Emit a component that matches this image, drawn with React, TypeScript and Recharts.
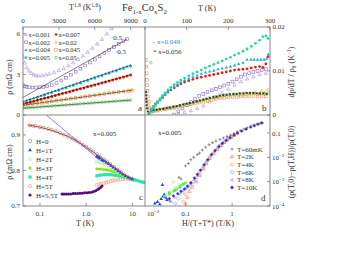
import React from "react"
import { ScatterChart, Scatter, XAxis, YAxis } from "recharts"

const W = 349
const H = 274
const FONT = "Liberation Serif, DejaVu Serif, serif"
const INK = "#333"

// ---- panel a : rho vs T^1.6 ----
const aXTicks = [0, 3000, 6000, 9000]
const aYTicks = [0, 3, 6]
const a001 = [[0,4.3],[150,3.85],[300,3.5],[500,3.25],[700,3.08],[900,2.98],[1100,2.92],[1300,2.9],[1600,2.92],[1900,2.97],[2200,3.04],[2600,3.15],[3000,3.3],[3400,3.45],[3800,3.65],[4200,3.87],[4600,4.1],[5000,4.38],[5400,4.65],[5800,4.95],[6200,5.25],[6600,5.6],[7000,6.0],[7400,6.4],[7650,6.6]]
const a002 = [[0,2.2],[150,2.12],[300,2.08],[500,2.05],[800,2.03],[1100,2.03],[1400,2.05],[1700,2.08],[2000,2.12],[2400,2.2],[2800,2.35],[3200,2.55],[3600,2.75],[4000,2.98],[4400,3.2],[4800,3.42],[5200,3.65],[5600,3.88],[6000,4.1],[6400,4.33],[6800,4.56],[7200,4.8],[7600,5.03],[8000,5.25],[8400,5.45],[8700,5.6]]
const a004 = [[0,1.0],[300,1.07],[600,1.15],[900,1.24],[1200,1.33],[1500,1.42],[1800,1.51],[2100,1.6],[2400,1.69],[2700,1.78],[3000,1.87],[3300,1.96],[3600,2.05],[3900,2.14],[4200,2.23],[4500,2.32],[4800,2.41],[5100,2.5],[5400,2.59],[5700,2.68],[6000,2.77],[6300,2.86],[6600,2.95],[6900,3.04],[7200,3.13],[7500,3.22],[7800,3.31],[8100,3.4],[8400,3.49],[8700,3.58],[9000,3.66]]
const a005 = [[0,0.95],[600,1.1],[1200,1.27],[1800,1.45],[2400,1.63],[3000,1.8],[3600,1.98],[4200,2.16],[4800,2.34],[5400,2.52],[6000,2.7],[6600,2.88],[7200,3.06],[7800,3.24],[8400,3.42],[9000,3.58]]
const a007 = [[0,0.82],[300,0.88],[600,0.95],[900,1.02],[1200,1.09],[1500,1.16],[1800,1.23],[2100,1.3],[2400,1.37],[2700,1.44],[3000,1.51],[3300,1.58],[3600,1.65],[3900,1.72],[4200,1.79],[4500,1.86],[4800,1.93],[5100,2.0],[5400,2.08],[5700,2.15],[6000,2.22],[6300,2.29],[6600,2.36],[6900,2.44],[7200,2.51],[7500,2.58],[7800,2.65],[8100,2.73],[8400,2.8],[8700,2.88],[9000,2.96]]
const a02 = [[0,0.75],[400,0.8],[800,0.85],[1200,0.9],[1600,0.95],[2000,1.0],[2400,1.05],[2800,1.1],[3200,1.15],[3600,1.2],[4000,1.25],[4400,1.3],[4800,1.35],[5200,1.4],[5600,1.45],[6000,1.5],[6400,1.55],[6800,1.6],[7200,1.65],[7600,1.7],[8000,1.74],[8400,1.78],[8800,1.83],[9100,1.86]]
const a045 = [[0,0.7],[400,0.75],[800,0.8],[1200,0.85],[1600,0.9],[2000,0.95],[2400,1.0],[2800,1.05],[3200,1.1],[3600,1.15],[4000,1.2],[4400,1.25],[4800,1.3],[5200,1.35],[5600,1.4],[6000,1.45],[6400,1.5],[6800,1.55],[7200,1.6],[7600,1.65],[8000,1.69],[8400,1.73],[8800,1.77],[9100,1.8]]
const a05 = [[0,0.5],[300,0.52],[600,0.54],[900,0.56],[1200,0.58],[1500,0.6],[1800,0.62],[2100,0.64],[2400,0.66],[2700,0.68],[3000,0.7],[3300,0.72],[3600,0.74],[3900,0.76],[4200,0.78],[4500,0.8],[4800,0.82],[5100,0.84],[5400,0.86],[5700,0.88],[6000,0.9],[6300,0.92],[6600,0.94],[6900,0.96],[7200,0.98],[7500,1.0],[7800,1.02],[8100,1.04],[8400,1.06],[8700,1.08],[9000,1.1]]
const aFit002 = [[0,1.3],[8700,5.6]]
const aFit004 = [[0,0.98],[9000,3.68]]
const aFit007 = [[0,0.82],[9000,2.97]]
const aFit02 = [[0,0.72],[9100,1.83]]
const aFit05 = [[0,0.5],[9000,1.1]]

// ---- panel b : (drho/dT)/rho0 vs T ----
const bXTicks = [0, 100, 200, 300]
const bYTicks = [0, 0.01, 0.02]
const b005 = [[8,0.0],[12,0.0005],[16,0.0012],[20,0.0018],[25,0.0024],[30,0.003],[36,0.0037],[42,0.0044],[48,0.005],[55,0.0057],[62,0.0063],[70,0.0069],[78,0.0074],[86,0.0079],[95,0.0084],[105,0.0089],[115,0.0094],[125,0.0098],[135,0.0102],[145,0.0107],[155,0.0111],[165,0.0115],[175,0.0119],[185,0.0123],[195,0.0127],[205,0.0131],[215,0.0136],[225,0.014],[235,0.0145],[245,0.015],[255,0.0156],[265,0.0163],[275,0.017],[283,0.0178],[290,0.018],[295,0.0174]]
const b004 = [[10,0.0002],[15,0.001],[20,0.0016],[25,0.0022],[30,0.0028],[36,0.0034],[42,0.004],[48,0.0046],[55,0.0052],[62,0.0058],[70,0.0064],[78,0.0069],[86,0.0074],[95,0.0079],[105,0.0083],[115,0.0087],[125,0.009],[135,0.0094],[145,0.0097],[155,0.0099],[165,0.0101],[175,0.0104],[185,0.0106],[195,0.0108],[205,0.011],[215,0.0113],[225,0.0116],[235,0.0119],[245,0.0126],[254,0.0126],[262,0.0126],[270,0.0126],[278,0.0126],[286,0.0126],[292,0.0128],[296,0.0138]]
const b007 = [[10,0.0004],[15,0.0012],[20,0.0019],[25,0.0025],[30,0.003],[36,0.0035],[42,0.004],[48,0.0046],[55,0.0052],[62,0.0057],[70,0.0062],[78,0.0067],[86,0.0071],[95,0.0075],[105,0.0078],[115,0.0081],[125,0.0084],[135,0.0086],[145,0.0088],[155,0.009],[165,0.0092],[175,0.0094],[185,0.0096],[195,0.0098],[205,0.01],[215,0.0102],[225,0.0103],[235,0.0104],[245,0.0105],[255,0.0107],[265,0.0109],[275,0.011],[283,0.0108],[290,0.0116],[295,0.0132]]
const b002 = [[70,0.0001],[80,0.0008],[90,0.0015],[100,0.0022],[110,0.0029],[120,0.0036],[130,0.0043],[140,0.0048],[150,0.0052],[160,0.0056],[170,0.0059],[180,0.0063],[190,0.0067],[200,0.0071],[210,0.0076],[220,0.0081],[230,0.0087],[240,0.0092],[250,0.0095],[260,0.0098],[270,0.01],[280,0.0102],[290,0.0104]]
const b001 = [[80,0.0002],[95,0.0006],[110,0.001],[125,0.0015],[140,0.0021],[155,0.003],[170,0.004],[185,0.005],[200,0.0059],[215,0.0068],[230,0.0076],[245,0.0082],[260,0.0087],[275,0.0092],[290,0.0095]]
const b056 = [[2,0.0052],[2.5,0.0045],[3,0.0037],[3.5,0.003],[4,0.0022],[5,0.0015],[7,0.0008],[10,0.0005],[15,0.0009],[20,0.0011],[28,0.0012],[36,0.0013],[44,0.0014],[52,0.0016],[60,0.0017],[68,0.0019],[76,0.002],[84,0.0022],[92,0.0024],[100,0.0026],[108,0.0027],[116,0.0029],[124,0.0031],[132,0.0033],[140,0.0035],[148,0.0037],[156,0.0039],[164,0.0041],[172,0.0042],[180,0.0044],[188,0.0045],[196,0.0046],[204,0.0047],[212,0.0048],[220,0.0048],[228,0.0049],[236,0.0049],[244,0.005],[252,0.005],[260,0.005],[268,0.0049],[276,0.0049],[284,0.0049],[292,0.0048]]
const b05 = [[14,0.0119],[18,0.0008],[26,0.001],[34,0.0012],[46,0.0014],[58,0.0016],[70,0.0018],[82,0.0021],[94,0.0024],[106,0.0026],[118,0.0029],[130,0.0032],[142,0.0035],[154,0.0038],[166,0.004],[178,0.0043],[190,0.0045],[202,0.0046],[214,0.0047],[226,0.0048],[238,0.0049],[250,0.0049],[262,0.0049],[274,0.0048],[286,0.0048],[296,0.005]]
const b02 = [[5,0.0035],[8,0.0025],[12,0.0018],[18,0.0014],[25,0.0013],[35,0.0014],[45,0.0015],[55,0.0016],[65,0.0017],[75,0.0019],[85,0.0021],[95,0.0023],[105,0.0025],[115,0.0027],[125,0.003],[135,0.0032],[145,0.0034],[155,0.0036],[165,0.0038],[175,0.004],[185,0.0041],[195,0.0042],[205,0.0043],[215,0.0044],[225,0.0044],[235,0.0045],[245,0.0046],[255,0.0048],[265,0.0052],[275,0.0049],[280,0.0055],[288,0.0051],[295,0.0058]]
const b045 = [[3,0.0125],[3.5,0.011],[4,0.0095],[4.5,0.008],[5,0.0068],[6,0.0055],[7,0.0042],[9,0.003],[12,0.0015],[20,0.0008],[30,0.001],[40,0.0012],[50,0.0013],[60,0.0015],[70,0.0016],[80,0.0018],[90,0.002],[100,0.0022],[110,0.0024],[120,0.0026],[130,0.0028],[140,0.003],[150,0.0032],[160,0.0034],[170,0.0036],[180,0.0038],[190,0.0039],[200,0.004],[210,0.0041],[220,0.0041],[230,0.0042],[240,0.0042],[250,0.0043],[260,0.0043],[270,0.0042],[280,0.0043],[290,0.0042]]

// ---- panel c : rho vs T, x=0.005, several fields ----
const cXTicks = [0.1, 1, 10]
const cYTicks = [0.7, 0.8, 0.9]
const cH0 = [[0.06,0.927],[0.07,0.926],[0.08,0.925],[0.1,0.922],[0.12,0.92],[0.15,0.917],[0.18,0.914],[0.22,0.91],[0.27,0.906],[0.33,0.901],[0.4,0.896],[0.5,0.89],[0.6,0.884],[0.7,0.879],[0.85,0.872],[1.0,0.866],[1.2,0.859],[1.4,0.853],[1.7,0.846],[2.0,0.838],[2.4,0.831],[2.8,0.825],[3.3,0.818],[4.0,0.81],[4.8,0.802],[5.7,0.795],[6.7,0.788],[8.0,0.781],[9.5,0.776],[11,0.773]]
const cFit0 = [[0.055,0.928],[0.1,0.922],[0.2,0.911],[0.4,0.896],[0.7,0.879],[1,0.866],[2,0.838],[4,0.81],[7,0.787],[10,0.776]]
const cLog = [[0.14,0.955],[2.5,0.818]]
const cH1 = [[1.7,0.84],[1.8,0.838],[1.9,0.836],[2.0,0.834],[2.2,0.83],[2.4,0.827],[2.7,0.823],[3.0,0.819],[3.4,0.814],[3.8,0.809],[4.3,0.804],[4.9,0.799],[5.5,0.794],[6.2,0.789],[7,0.785],[8,0.781],[9,0.778],[10,0.776]]
const cH2 = [[1.7,0.826],[1.8,0.825],[2.0,0.823],[2.2,0.821],[2.5,0.818],[2.8,0.815],[3.2,0.811],[3.6,0.807],[4.0,0.803],[4.6,0.799],[5.2,0.795],[6,0.79],[7,0.785],[8,0.781],[9,0.778],[10,0.776]]
const cH3 = [[1.7,0.804],[1.9,0.804],[2.1,0.804],[2.4,0.803],[2.7,0.802],[3,0.801],[3.4,0.799],[3.8,0.797],[4.3,0.795],[4.9,0.792],[5.5,0.789],[6.2,0.786],[7,0.783],[8,0.78],[9,0.778],[10,0.776]]
const cH4 = [[1.7,0.785],[1.9,0.786],[2.1,0.787],[2.4,0.788],[2.7,0.788],[3,0.788],[3.4,0.788],[3.8,0.787],[4.3,0.786],[4.9,0.785],[5.5,0.784],[6.2,0.782],[7,0.78],[8,0.779],[9,0.777],[10,0.776],[11,0.774],[12.5,0.772],[14,0.77],[15.5,0.768],[17,0.767],[18.5,0.766]]
const cH5 = [[1.7,0.759],[1.9,0.761],[2.1,0.762],[2.4,0.764],[2.7,0.766],[3,0.768],[3.4,0.77],[3.8,0.772],[4.3,0.773],[4.9,0.774],[5.5,0.775],[6.2,0.776],[7,0.776],[8,0.776],[9,0.776],[10,0.775]]
const cH55 = [[0.3,0.734],[0.33,0.734],[0.37,0.734],[0.41,0.734],[0.46,0.734],[0.52,0.735],[0.58,0.735],[0.65,0.735],[0.73,0.736],[0.82,0.736],[0.92,0.737],[1.03,0.737],[1.15,0.738],[1.3,0.739],[1.45,0.741],[1.6,0.743],[1.75,0.746],[1.9,0.749],[2.05,0.752],[2.2,0.756]]

// ---- panel d : magnetoresistance scaling ----
const dXTicks = [0.1, 1]
const dYTicks = [0.0001, 0.001, 0.01, 0.1]
const d60mK = [[0.046,0.00016],[0.072,0.0015],[0.08,0.0013],[0.1,0.0045],[0.115,0.0056],[0.13,0.008],[0.15,0.01],[0.18,0.013],[0.2,0.015],[0.23,0.02],[0.27,0.026],[0.32,0.033],[0.38,0.04],[0.45,0.047],[0.55,0.055],[0.65,0.063],[0.78,0.072],[0.92,0.082],[1.1,0.095],[1.3,0.11],[1.5,0.125],[1.8,0.145],[2.1,0.165],[2.5,0.19],[2.9,0.21],[3.4,0.23],[4.0,0.25],[4.5,0.26]]
const d2K = [[0.1,0.00013],[0.11,0.00022],[0.12,0.0004],[0.14,0.0006],[0.17,0.001],[0.2,0.0018],[0.24,0.0033],[0.28,0.0055],[0.33,0.009],[0.4,0.014],[0.48,0.021],[0.57,0.03],[0.68,0.041],[0.8,0.054],[0.95,0.067],[1.1,0.082],[1.3,0.098]]
const d4K = [[0.09,0.00015],[0.1,0.0003],[0.12,0.00055],[0.14,0.0008],[0.17,0.0012],[0.2,0.002],[0.24,0.0036],[0.28,0.006],[0.33,0.0095],[0.4,0.015],[0.48,0.022],[0.57,0.031],[0.68,0.042],[0.8,0.055],[0.95,0.068],[1.1,0.083]]
const d6K = [[0.06,0.00013],[0.07,0.0002],[0.085,0.00035],[0.1,0.0005],[0.12,0.0007],[0.145,0.001],[0.17,0.0015],[0.2,0.0025],[0.24,0.0042],[0.28,0.0068],[0.33,0.0105],[0.4,0.016],[0.48,0.024],[0.57,0.033],[0.68,0.044],[0.8,0.057],[0.95,0.07]]
const d8K = [[0.05,0.00015],[0.06,0.00022],[0.075,0.0003],[0.09,0.00042],[0.11,0.0006],[0.13,0.0008],[0.155,0.0012],[0.18,0.0018],[0.21,0.0028],[0.25,0.0045],[0.3,0.0075],[0.36,0.012],[0.43,0.018],[0.52,0.026],[0.62,0.036],[0.74,0.048]]
const d10K = [[0.045,0.0002],[0.055,0.00026],[0.068,0.00032],[0.08,0.0004],[0.095,0.0005],[0.11,0.00065],[0.13,0.0009],[0.155,0.0014],[0.18,0.002],[0.21,0.003],[0.25,0.005],[0.3,0.008],[0.36,0.013],[0.43,0.019],[0.52,0.028],[0.62,0.038],[0.75,0.05],[0.9,0.064],[1.1,0.082],[1.3,0.1],[1.6,0.12],[2.0,0.145],[2.5,0.175],[3.0,0.2],[3.6,0.23],[4.3,0.26]]
const dBlue = [[0.022,0.00013],[0.025,0.00015],[0.028,0.00012],[0.03,0.0002],[0.032,0.00075],[0.033,0.00025],[0.035,0.0003],[0.038,0.00022],[0.04,0.00018]]
const dLgreen = [[0.04,0.0003],[0.05,0.0004],[0.055,0.001],[0.06,0.00056],[0.07,0.0007]]
const dYgreen = [[0.045,0.0003],[0.055,0.0004],[0.065,0.0005],[0.08,0.0007],[0.1,0.0009]]
const dTeal = [[0.035,0.00025],[0.045,0.00035],[0.06,0.00045],[0.075,0.0006],[0.09,0.0008]]

const pts = (arr: number[][]) => arr.map(([x, y]) => ({ x, y }))

function Mark({ k, c, x, y, r = 1.4 }: { k: string; c: string; x: number; y: number; r?: number }) {
  const sw = 0.6
  if (x == null || y == null) return <g />
  switch (k) {
    case "circle":
      return <circle cx={x} cy={y} r={r} fill={c} />
    case "ocircle":
      return <circle cx={x} cy={y} r={r} fill="none" stroke={c} strokeWidth={sw} />
    case "tri":
    case "otri": {
      const d = `M${x},${y - r * 1.25}L${x + r * 1.15},${y + r * 0.8}L${x - r * 1.15},${y + r * 0.8}Z`
      return k === "tri" ? <path d={d} fill={c} /> : <path d={d} fill="none" stroke={c} strokeWidth={sw} />
    }
    case "sq":
      return <rect x={x - r} y={y - r} width={2 * r} height={2 * r} fill={c} />
    case "osq":
      return <rect x={x - r} y={y - r} width={2 * r} height={2 * r} fill="none" stroke={c} strokeWidth={sw} />
    case "odia":
      return <path d={`M${x},${y - r * 1.3}L${x + r * 1.3},${y}L${x},${y + r * 1.3}L${x - r * 1.3},${y}Z`} fill="none" stroke={c} strokeWidth={sw} />
    case "plus":
      return <path d={`M${x - r},${y}H${x + r}M${x},${y - r}V${y + r}`} stroke={c} strokeWidth={sw} />
    case "cross":
      return <path d={`M${x - r},${y - r}L${x + r},${y + r}M${x - r},${y + r}L${x + r},${y - r}`} stroke={c} strokeWidth={sw} />
    case "ast":
      return <path d={`M${x - r},${y}H${x + r}M${x},${y - r}V${y + r}M${x - r * 0.8},${y - r * 0.8}L${x + r * 0.8},${y + r * 0.8}M${x - r * 0.8},${y + r * 0.8}L${x + r * 0.8},${y - r * 0.8}`} stroke={c} strokeWidth={sw} />
    case "star":
      return (
        <g>
          <rect x={x - r * 0.8} y={y - r * 0.8} width={r * 1.6} height={r * 1.6} fill={c} />
          <path d={`M${x - r * 1.3},${y}H${x + r * 1.3}M${x},${y - r * 1.3}V${y + r * 1.3}`} stroke={c} strokeWidth={sw} />
        </g>
      )
    default:
      return <g />
  }
}

const shape = (k: string, c: string, r?: number) => (p: any) => <Mark k={k} c={c} x={p.cx} y={p.cy} r={r} />

type Series = { data: number[][]; k?: string; c: string; r?: number; line?: boolean; w?: number }

const tickStyle = { fontSize: 7, fill: INK, fontFamily: FONT }
const axisBase: any = {
  type: "number",
  allowDataOverflow: true,
  axisLine: false,
  tickLine: { stroke: "#555", strokeWidth: 0.6 },
  tickSize: -3,
  interval: 0,
  tick: tickStyle,
}

function PowTick(p: any) {
  const v = p.payload.value
  if (v >= 0.1) {
    return (
      <text x={p.x} y={p.y + 2.5} fontSize={7} fill={INK} fontFamily={FONT} textAnchor="start">
        0.1
      </text>
    )
  }
  const e = Math.round(-Math.log10(v))
  return (
    <text x={p.x} y={p.y + 2.5} fontSize={7} fill={INK} fontFamily={FONT} textAnchor="start">
      10<tspan dy={-3} fontSize={5}>{"−" + e}</tspan>
    </text>
  )
}

function Panel({ margin, x, y, series }: { margin: any; x: any; y: any; series: Series[] }) {
  return (
    <div style={{ position: "absolute", left: 0, top: 0 }}>
      <ScatterChart width={W} height={H} margin={margin}>
        <XAxis dataKey="x" {...axisBase} {...x} />
        <YAxis dataKey="y" {...axisBase} {...y} />
        {series.map((s, i) =>
          s.line ? (
            <Scatter
              key={i}
              data={pts(s.data)}
              line={{ stroke: s.c, strokeWidth: s.w ?? 0.6 }}
              shape={() => <g />}
              isAnimationActive={false}
            />
          ) : (
            <Scatter key={i} data={pts(s.data)} shape={shape(s.k || "circle", s.c, s.r)} isAnimationActive={false} />
          )
        )}
      </ScatterChart>
    </div>
  )
}

const C = {
  x001: "#a98ad8",
  x002: "#8a66cc",
  x004: "#1aa8e0",
  x005: "#18e0a0",
  x007: "#e8200c",
  x02: "#f0b020",
  x045: "#f08a60",
  x05: "#38c838",
  x056: "#222222",
  x049: "#3a7ff0",
  h0: "#808080",
  h1: "#2048e0",
  h2: "#a8f0a0",
  h3: "#90e010",
  h4: "#20e8b0",
  h5: "#f09070",
  h55: "#501078",
  t60: "#555555",
  t2: "#f07070",
  t4: "#f0a050",
  t6: "#58a8f0",
  t8: "#7878e8",
  t10: "#4a22b8",
}

const legA = [
  { k: "otri", c: C.x001, t: "x=0.001", col: 0, row: 0 },
  { k: "osq", c: C.x002, t: "x=0.002", col: 0, row: 1 },
  { k: "tri", c: C.x004, t: "x=0.004", col: 0, row: 2 },
  { k: "circle", c: C.x005, t: "x=0.005", col: 0, row: 3 },
  { k: "circle", c: C.x007, t: "x=0.007", col: 1, row: 0 },
  { k: "otri", c: C.x02, t: "x=0.02", col: 1, row: 1 },
  { k: "osq", c: C.x045, t: "x=0.045", col: 1, row: 2 },
  { k: "ocircle", c: C.x05, t: "x=0.05", col: 1, row: 3 },
]
const legC = [
  { k: "ocircle", c: C.h0, t: "H=0" },
  { k: "tri", c: C.h1, t: "H=1T" },
  { k: "otri", c: C.h2, t: "H=2T" },
  { k: "circle", c: C.h3, t: "H=3T" },
  { k: "sq", c: C.h4, t: "H=4T" },
  { k: "ocircle", c: C.h5, t: "H=5T" },
  { k: "circle", c: C.h55, t: "H=5.5T" },
]
const legD = [
  { k: "plus", c: C.t60, t: "T=60mK" },
  { k: "otri", c: C.t2, t: "T=2K" },
  { k: "ocircle", c: C.t4, t: "T=4K" },
  { k: "odia", c: C.t6, t: "T=6K" },
  { k: "cross", c: C.t8, t: "T=8K" },
  { k: "star", c: C.t10, t: "T=10K" },
]

function Overlay() {
  const txt = { fontFamily: FONT, fill: INK }
  return (
    <svg width={W} height={H} style={{ position: "absolute", left: 0, top: 0, pointerEvents: "none" }}>
      <g fill="none" stroke="#6a6a6a" strokeWidth={0.8}>
        <rect x={23} y={27} width={247} height={179} />
        <line x1={145} y1={27} x2={145} y2={206} />
        <line x1={23} y1={115} x2={270} y2={115} />
      </g>
      <text x={122} y={11} fontSize={10.5} {...txt}>
        Fe<tspan dy={2.5} fontSize={7}>1-x</tspan>
        <tspan dy={-2.5}>Co</tspan>
        <tspan dy={2.5} fontSize={7}>x</tspan>
        <tspan dy={-2.5}>S</tspan>
        <tspan dy={2.5} fontSize={7}>2</tspan>
      </text>
      <text x={85} y={10} fontSize={8} textAnchor="middle" {...txt}>
        T<tspan dy={-3} fontSize={5.5}>1.6</tspan>
        <tspan dy={3}> (K</tspan>
        <tspan dy={-3} fontSize={5.5}>1.6</tspan>
        <tspan dy={3}>)</tspan>
      </text>
      <text x={207} y={11} fontSize={8} textAnchor="middle" {...txt}>T (K)</text>
      <text x={85} y={226} fontSize={8} textAnchor="middle" {...txt}>T (K)</text>
      <text x={208} y={226} fontSize={8} textAnchor="middle" {...txt}>H/(T+T*) (T/K)</text>
      <text x={147} y={216} fontSize={7} {...txt}>
        10<tspan dy={-3} fontSize={5}>−2</tspan>
      </text>
      <text transform="translate(12,77) rotate(-90)" fontSize={8} textAnchor="middle" {...txt}>ρ (mΩ cm)</text>
      <text transform="translate(12,162) rotate(-90)" fontSize={8} textAnchor="middle" {...txt}>ρ (mΩ cm)</text>
      <text transform="translate(294,72) rotate(-90)" fontSize={8} textAnchor="middle" {...txt}>
        dρ/dT / ρ<tspan dy={1.5} fontSize={5.5}>0</tspan>
        <tspan dy={-1.5}> (K</tspan>
        <tspan dy={-3} fontSize={5.5}>−1</tspan>
        <tspan dy={3}>)</tspan>
      </text>
      <text transform="translate(294,162) rotate(-90)" fontSize={8} textAnchor="middle" {...txt}>
        (ρ(T,0)−ρ(T,H))/ρ(T,0)
      </text>
      <text x={138} y={111} fontSize={9} {...txt}>a</text>
      <text x={262} y={111} fontSize={9} {...txt}>b</text>
      <text x={139} y={200} fontSize={9} {...txt}>c</text>
      <text x={261} y={201} fontSize={9} {...txt}>d</text>
      <text x={93} y={135.5} fontSize={7} {...txt}>x=0.005</text>
      <text x={158} y={134.5} fontSize={7} {...txt}>x=0.005</text>
      <text x={153} y={44} fontSize={7} fontFamily={FONT} fill={C.x049}>- x=0.049</text>
      <text x={153} y={54} fontSize={7} {...txt}>* x=0.056</text>
      <text x={111} y={39.5} fontSize={7} {...txt}>·0.5</text>
      <text x={115} y={53.5} fontSize={7} {...txt}>·0.5</text>
      {legA.map((l, i) => (
        <g key={i}>
          <Mark k={l.k} c={l.c} x={26 + l.col * 30} y={34.5 + l.row * 7.7} r={1.3} />
          <text x={28.5 + l.col * 30} y={37 + l.row * 7.7} fontSize={6.5} {...txt}>{l.t}</text>
        </g>
      ))}
      {legC.map((l, i) => (
        <g key={i}>
          <Mark k={l.k} c={l.c} x={30} y={141 + i * 9} r={1.6} />
          <text x={36} y={143.5 + i * 9} fontSize={7} {...txt}>{l.t}</text>
        </g>
      ))}
      {legD.map((l, i) => (
        <g key={i}>
          <Mark k={l.k} c={l.c} x={232} y={149 + i * 7.7} r={1.5} />
          <text x={237} y={151.5 + i * 7.7} fontSize={7} {...txt}>{l.t}</text>
        </g>
      ))}
    </svg>
  )
}

export default function App() {
  const seriesA: Series[] = [
    { data: a05, k: "ocircle", c: C.x05, r: 1.3 },
    { data: a045, k: "osq", c: C.x045, r: 1.3 },
    { data: a02, k: "otri", c: C.x02, r: 1.3 },
    { data: a005, k: "circle", c: C.x005, r: 1.3 },
    { data: a007, k: "circle", c: C.x007, r: 1.5 },
    { data: a004, k: "tri", c: C.x004, r: 1.4 },
    { data: a002, k: "osq", c: C.x002, r: 1.4 },
    { data: a001, k: "otri", c: C.x001, r: 1.5 },
    { data: aFit002, c: "#000", line: true, w: 0.5 },
    { data: aFit004, c: "#000", line: true, w: 0.5 },
    { data: aFit007, c: "#000", line: true, w: 0.5 },
    { data: aFit02, c: "#000", line: true, w: 0.5 },
    { data: aFit05, c: "#000", line: true, w: 0.5 },
  ]
  const seriesB: Series[] = [
    { data: b001, k: "otri", c: C.x001, r: 1.4 },
    { data: b002, k: "osq", c: C.x002, r: 1.4 },
    { data: b045, k: "osq", c: C.x045, r: 1.3 },
    { data: b02, k: "otri", c: C.x02, r: 1.3 },
    { data: b05, k: "ocircle", c: C.x05, r: 1.3 },
    { data: b056, k: "ast", c: C.x056, r: 1.2 },
    { data: b007, k: "circle", c: C.x007, r: 1.4 },
    { data: b004, k: "tri", c: C.x004, r: 1.4 },
    { data: b005, k: "circle", c: C.x005, r: 1.4 },
  ]
  const seriesC: Series[] = [
    { data: cH0, k: "ocircle", c: C.h0, r: 1.6 },
    { data: cLog, c: "#3030e0", line: true, w: 0.6 },
    { data: cH5, k: "ocircle", c: C.h5, r: 1.6 },
    { data: cH4, k: "sq", c: C.h4, r: 1.5 },
    { data: cH3, k: "circle", c: C.h3, r: 1.5 },
    { data: cH2, k: "otri", c: C.h2, r: 1.6 },
    { data: cH1, k: "tri", c: C.h1, r: 1.5 },
    { data: cFit0, c: "#e02020", line: true, w: 0.9 },
    { data: cH55, k: "circle", c: C.h55, r: 1.5 },
  ]
  const seriesD: Series[] = [
    { data: dBlue, k: "tri", c: C.h1, r: 1.5 },
    { data: dTeal, k: "sq", c: C.h4, r: 1.4 },
    { data: dYgreen, k: "circle", c: C.h3, r: 1.4 },
    { data: dLgreen, k: "otri", c: C.h2, r: 1.5 },
    { data: d2K, k: "otri", c: C.t2, r: 1.4 },
    { data: d4K, k: "ocircle", c: C.t4, r: 1.4 },
    { data: d6K, k: "odia", c: C.t6, r: 1.3 },
    { data: d8K, k: "cross", c: C.t8, r: 1.3 },
    { data: d10K, k: "star", c: C.t10, r: 1.3 },
    { data: d60mK, k: "plus", c: C.t60, r: 1.5 },
  ]

  return (
    <div style={{ position: "absolute", left: 0, top: 0, width: W, height: H, background: "#fff" }}>
      <Panel
        margin={{ top: 13, left: 7, right: 204, bottom: 159 }}
        x={{ orientation: "top", height: 14, domain: [0, 10200], ticks: aXTicks, tickMargin: 7 }}
        y={{ width: 16, domain: [0, 6.5], ticks: aYTicks, tickMargin: 6 }}
        series={seriesA}
      />
      <Panel
        margin={{ top: 13, left: 145, right: 55, bottom: 159 }}
        x={{ orientation: "top", height: 14, domain: [0, 300], ticks: bXTicks, tickMargin: 7 }}
        y={{ orientation: "right", width: 24, domain: [0, 0.02], ticks: bYTicks, tickMargin: 5.5 }}
        series={seriesB}
      />
      <Panel
        margin={{ top: 115, left: 7, right: 204, bottom: 54 }}
        x={{
          height: 14,
          scale: "log",
          domain: [0.043, 18.7],
          ticks: cXTicks,
          tickMargin: 8.5,
          tickFormatter: (v: number) => (v === 1 ? "1.0" : String(v)),
        }}
        y={{ width: 16, domain: [0.7, 0.956], ticks: cYTicks, tickMargin: 6 }}
        series={seriesC}
      />
      <Panel
        margin={{ top: 115, left: 145, right: 55, bottom: 54 }}
        x={{ height: 14, scale: "log", domain: [0.0135, 6.5], ticks: dXTicks, tickMargin: 8.5 }}
        y={{ orientation: "right", width: 24, scale: "log", domain: [0.0001, 0.55], ticks: dYTicks, tickMargin: 5, tick: PowTick }}
        series={seriesD}
      />
      <Overlay />
    </div>
  )
}
